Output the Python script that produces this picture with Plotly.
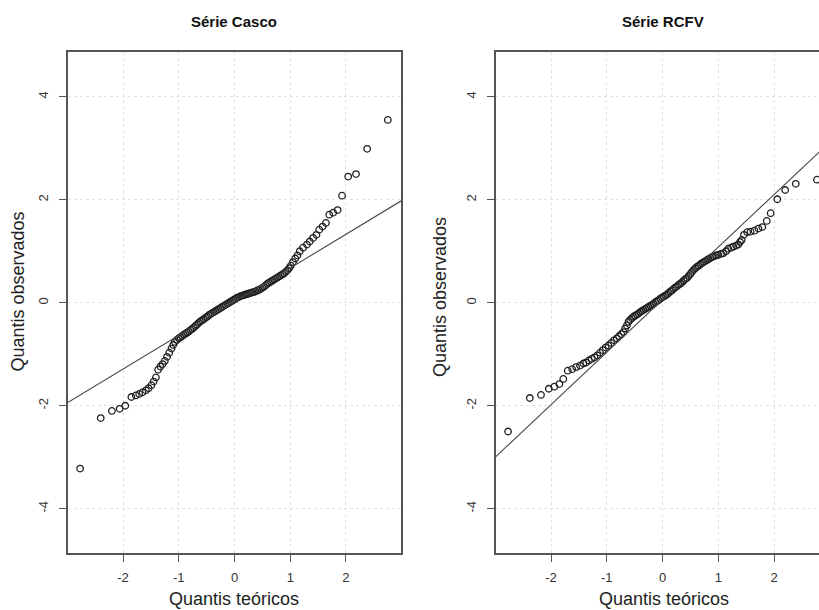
import plotly.graph_objects as go

# ---------------- data ----------------
casco_x = [-2.77, -2.40, -2.20, -2.06, -1.96, -1.85, -1.77, -1.71, -1.65, -1.59, -1.54, -1.49,
           -1.45, -1.41, -1.37, -1.33, -1.29, -1.25, -1.21, -1.17, -1.13, -1.10, -1.07, -1.03,
           -1.00, -0.97, -0.94, -0.91, -0.88, -0.85, -0.82, -0.79, -0.76, -0.73, -0.70, -0.67,
           -0.64, -0.61, -0.58, -0.55, -0.52, -0.49, -0.46, -0.43, -0.40, -0.37, -0.34, -0.31,
           -0.28, -0.25, -0.22, -0.19, -0.16, -0.13, -0.10, -0.07, -0.04, -0.01, 0.02, 0.05,
           0.08, 0.11, 0.14, 0.17, 0.20, 0.23, 0.26, 0.29, 0.32, 0.35, 0.38, 0.41, 0.44, 0.47,
           0.50, 0.53, 0.56, 0.59, 0.62, 0.65, 0.68, 0.71, 0.74, 0.77, 0.80, 0.83, 0.86, 0.89,
           0.92, 0.95, 0.98, 1.01, 1.05, 1.09, 1.13, 1.17, 1.23, 1.30, 1.35, 1.41, 1.47, 1.52,
           1.58, 1.64, 1.70, 1.77, 1.85, 1.93, 2.04, 2.18, 2.38, 2.75]
casco_y = [-3.22, -2.24, -2.10, -2.06, -2.00, -1.83, -1.80, -1.77, -1.74, -1.70, -1.66, -1.60,
           -1.53, -1.45, -1.30, -1.24, -1.19, -1.13, -1.05, -0.97, -0.89, -0.82, -0.76, -0.72,
           -0.69, -0.67, -0.65, -0.62, -0.60, -0.58, -0.56, -0.53, -0.51, -0.48, -0.45, -0.42,
           -0.39, -0.36, -0.34, -0.32, -0.29, -0.27, -0.24, -0.22, -0.20, -0.18, -0.16, -0.14,
           -0.12, -0.10, -0.08, -0.06, -0.04, -0.02, 0.00, 0.02, 0.04, 0.06, 0.08, 0.10,
           0.11, 0.13, 0.14, 0.15, 0.16, 0.17, 0.18, 0.19, 0.20, 0.21, 0.22, 0.24, 0.25, 0.27,
           0.29, 0.31, 0.34, 0.37, 0.39, 0.41, 0.43, 0.45, 0.47, 0.49, 0.51, 0.53, 0.55, 0.57,
           0.60, 0.63, 0.67, 0.72, 0.79, 0.86, 0.92, 1.00, 1.07, 1.13, 1.19, 1.26, 1.32, 1.42,
           1.48, 1.55, 1.71, 1.75, 1.80, 2.08, 2.45, 2.50, 2.99, 3.55]

rcfv_x = [-2.77, -2.38, -2.18, -2.04, -1.94, -1.85, -1.78, -1.70, -1.62, -1.55, -1.48, -1.42,
          -1.37, -1.32, -1.27, -1.22, -1.17, -1.12, -1.07, -1.02, -0.97, -0.92, -0.87, -0.82,
          -0.78, -0.74, -0.70, -0.67, -0.64, -0.61, -0.58, -0.55, -0.52, -0.49, -0.46, -0.43,
          -0.40, -0.37, -0.34, -0.31, -0.28, -0.25, -0.22, -0.19, -0.16, -0.13, -0.10, -0.07,
          -0.04, -0.01, 0.02, 0.05, 0.08, 0.11, 0.14, 0.17, 0.20, 0.23, 0.26, 0.29, 0.32, 0.35,
          0.38, 0.41, 0.44, 0.47, 0.50, 0.53, 0.56, 0.59, 0.62, 0.65, 0.68, 0.71, 0.74, 0.77,
          0.80, 0.83, 0.86, 0.89, 0.92, 0.96, 1.00, 1.05, 1.09, 1.14, 1.18, 1.23, 1.27, 1.32,
          1.36, 1.39, 1.42, 1.46, 1.52, 1.58, 1.65, 1.72, 1.79, 1.87, 1.94, 2.06, 2.20, 2.39,
          2.77]
rcfv_y = [-2.50, -1.85, -1.79, -1.67, -1.63, -1.58, -1.48, -1.32, -1.29, -1.25, -1.22, -1.18,
          -1.16, -1.12, -1.09, -1.06, -1.02, -0.97, -0.92, -0.87, -0.83, -0.78, -0.73, -0.69,
          -0.65, -0.61, -0.57, -0.50, -0.44, -0.37, -0.33, -0.30, -0.27, -0.25, -0.23, -0.21,
          -0.18, -0.16, -0.14, -0.12, -0.10, -0.08, -0.06, -0.04, -0.02, 0.01, 0.03, 0.05,
          0.08, 0.10, 0.12, 0.14, 0.16, 0.19, 0.22, 0.24, 0.27, 0.30, 0.32, 0.35, 0.37, 0.40,
          0.43, 0.46, 0.48, 0.52, 0.56, 0.60, 0.64, 0.67, 0.70, 0.72, 0.75, 0.77, 0.79, 0.81,
          0.83, 0.85, 0.87, 0.89, 0.90, 0.92, 0.93, 0.95, 0.96, 1.00, 1.05, 1.07, 1.09, 1.11,
          1.13, 1.18, 1.22, 1.32, 1.37, 1.38, 1.40, 1.44, 1.47, 1.59, 1.74, 2.01, 2.19, 2.31,
          2.39]

# reference lines (slope, intercept)
casco_line = (0.655, 0.02)
rcfv_line = (1.02, 0.06)

titles = ["Série Casco", "Série RCFV"]
x_title = "Quantis teóricos"
y_title = "Quantis observados"
x_ticks = [-2, -1, 0, 1, 2]
y_ticks = [-4, -2, 0, 2, 4]

# ---------------- figure ----------------
W, H = 819, 610
FONT = "Liberation Sans, Arial, sans-serif"
AXC = "#555555"
PTC = "#1e1e1e"
GRID = "#e2e2e2"

X_RANGE_L = [-2.987, 2.987]
X_RANGE_R = [-2.987, 2.807]
Y_RANGE = [-4.86, 4.87]

fig = go.Figure()

def add_panel(xs, ys, line, xa, ya):
    fig.add_trace(go.Scatter(
        x=xs, y=ys, mode="markers", xaxis=xa, yaxis=ya, showlegend=False,
        marker=dict(symbol="circle-open", size=6.5, color=PTC, line=dict(width=1.3, color=PTC)),
    ))
    s, b = line
    lx = [-3.5, 3.5]
    fig.add_trace(go.Scatter(
        x=lx, y=[s * v + b for v in lx], mode="lines", xaxis=xa, yaxis=ya,
        showlegend=False, line=dict(color="#474747", width=1.1),
    ))

add_panel(casco_x, casco_y, casco_line, "x", "y")
add_panel(rcfv_x, rcfv_y, rcfv_line, "x2", "y2")

def xaxis(domain, rng, anchor):
    return dict(domain=domain, range=rng, anchor=anchor,
                tickvals=x_ticks, ticktext=[str(v) for v in x_ticks],
                showline=True, linecolor=AXC, linewidth=1.6, mirror=True,
                ticks="outside", ticklen=7, tickcolor=AXC, tickwidth=1,
                showgrid=True, gridcolor=GRID, griddash="dot", gridwidth=1,
                zeroline=False, ticklabelstandoff=5,
                tickfont=dict(family=FONT, size=13, color="#333333"))

def yaxis(domain, anchor, mirror):
    return dict(domain=domain, range=Y_RANGE, anchor=anchor,
                tickvals=y_ticks, ticktext=[str(v) for v in y_ticks], tickangle=-90,
                showline=True, linecolor=AXC, linewidth=1.6, mirror=mirror,
                ticks="outside", ticklen=7, tickcolor=AXC, tickwidth=1,
                showgrid=True, gridcolor=GRID, griddash="dot", gridwidth=1,
                zeroline=False, ticklabelstandoff=6,
                tickfont=dict(family=FONT, size=13, color="#333333"))

yd = [1 - 553 / H, 1 - 52 / H]
fig.update_layout(
    width=W, height=H, margin=dict(l=0, r=0, t=0, b=0),
    paper_bgcolor="white", plot_bgcolor="white",
    xaxis=xaxis([68 / W, 401 / W], X_RANGE_L, "y"),
    yaxis=yaxis(yd, "x", True),
    xaxis2=xaxis([496 / W, 1.0], X_RANGE_R, "y2"),
    yaxis2=yaxis(yd, "x2", False),
)

ann = []
for t, cx in zip(titles, [234.5, 662.5]):
    ann.append(dict(text="<b>" + t + "</b>", x=cx / W, y=1 - 21.5 / H, xref="paper", yref="paper",
                    showarrow=False, xanchor="center", yanchor="middle",
                    font=dict(family=FONT, size=15, color="#111111")))
for cx in [234.5, 663.5]:
    ann.append(dict(text=x_title, x=cx / W, y=1 - 599 / H, xref="paper", yref="paper",
                    showarrow=False, xanchor="center", yanchor="middle",
                    font=dict(family=FONT, size=18, color="#222222")))
for cx, cy in [(17.5, 292), (440, 297)]:
    ann.append(dict(text=y_title, x=cx / W, y=1 - cy / H, xref="paper", yref="paper",
                    showarrow=False, xanchor="center", yanchor="middle", textangle=-90,
                    font=dict(family=FONT, size=18, color="#222222")))
fig.update_layout(annotations=ann)

fig.write_html("out.html")
